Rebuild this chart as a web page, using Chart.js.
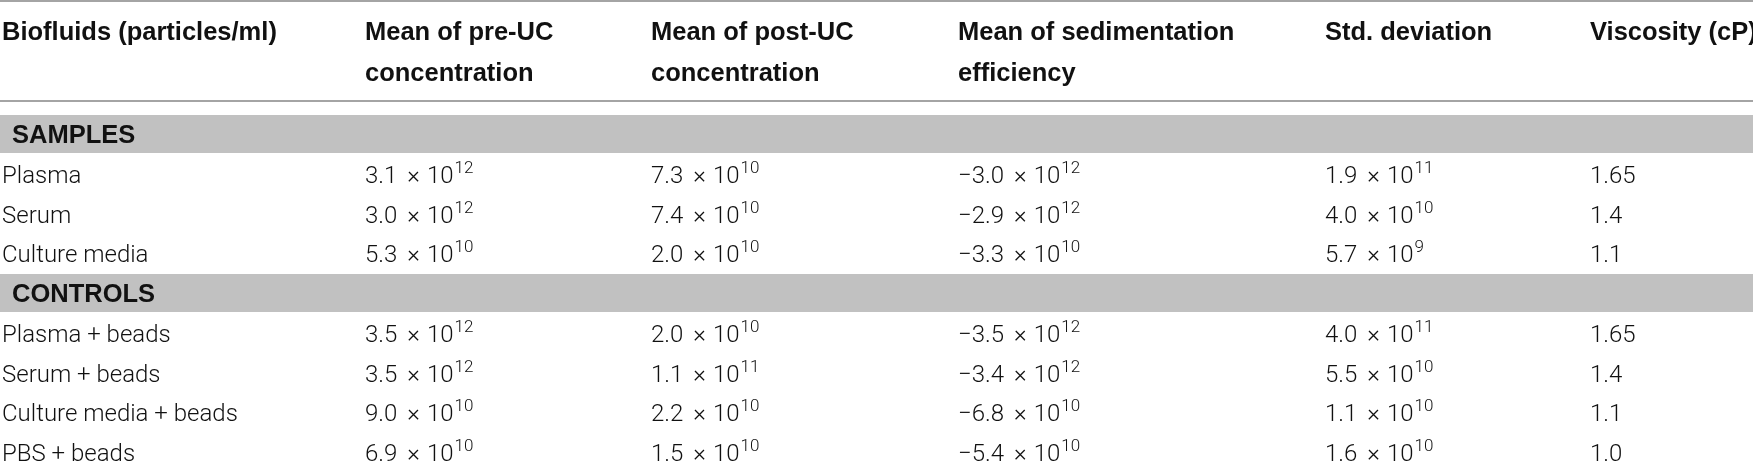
<!DOCTYPE html>
<html>
<head>
<meta charset="utf-8">
<script src="https://cdn.jsdelivr.net/npm/chart.js@4.4.1/dist/chart.umd.min.js"></script>
<style>
  html, body { margin: 0; padding: 0; background: #fff; }
  .tabela-container { width: 1753px; height: 463px; }
</style>
</head>
<body>
<div class="tabela-container"><canvas id="tabela"></canvas></div>
<script>
/*************  dados da tabela  ****************/
const columnHeaders = [
  ['Biofluids (particles/ml)'],
  ['Mean of pre-UC', 'concentration'],
  ['Mean of post-UC', 'concentration'],
  ['Mean of sedimentation', 'efficiency'],
  ['Std. deviation'],
  ['Viscosity (cP)']
]
const sections = ['SAMPLES', 'CONTROLS']
const sampleRows = ['Plasma', 'Serum', 'Culture media']
const controlRows = ['Plasma + beads', 'Serum + beads', 'Culture media + beads', 'PBS + beads']

// valores por linha (amostras e depois controlos)
const preUC = [3.1e12, 3.0e12, 5.3e10, 3.5e12, 3.5e12, 9.0e10, 6.9e10]
const postUC = [7.3e10, 7.4e10, 2.0e10, 2.0e10, 1.1e11, 2.2e10, 1.5e10]
const sedimentation = [-3.0e12, -2.9e12, -3.3e10, -3.5e12, -3.4e12, -6.8e10, -5.4e10]
const stdDeviation = [1.9e11, 4.0e10, 5.7e9, 4.0e11, 5.5e10, 1.1e10, 1.6e10]
const viscosity = [1.65, 1.4, 1.1, 1.65, 1.4, 1.1, 1.0]

//*************  layout / estilos  ****************/
const layout = {
  width: 1753,
  colX: [2, 365, 651, 958, 1325, 1590],
  sectionX: 12,
  headerBaselines: [40, 81],
  rules: [1, 101],
  baselineShift: 9
}
const style = {
  text: '#111',
  rule: '#a4a4a4',
  band: '#c1c1c1',
  headFont: 'bold 25.5px "Liberation Sans", Arial, sans-serif',
  bodyFont: '300 24px Roboto, "Liberation Sans", sans-serif',
  supFont: '300 17px Roboto, "Liberation Sans", sans-serif'
}

const rowLabels = [sections[0], ...sampleRows, sections[1], ...controlRows]
const valueColumns = [preUC, postUC, sedimentation, stdDeviation]

//*************  funções auxiliares  ****************/
function sciParts(v){
  const exp = Math.floor(Math.log10(Math.abs(v)))
  const mant = v / Math.pow(10, exp)
  return { mant: (mant < 0 ? '\u2212' : '') + Math.abs(mant).toFixed(1), exp: String(exp) }
}

function formatPlain(v){
  return Number.isInteger(v) ? v.toFixed(1) : String(v)
}

function drawSci(ctx, x, y, v){
  const p = sciParts(v)
  ctx.font = style.bodyFont
  ctx.fillText(p.mant, x, y)
  x += ctx.measureText(p.mant).width + 10
  ctx.fillText('\u00d7', x, y)
  x += ctx.measureText('\u00d7').width + 7
  ctx.fillText('10', x, y)
  x += ctx.measureText('10').width + 1
  ctx.font = style.supFont
  ctx.fillText(p.exp, x, y - 10)
}

// plugin que escreve os textos da tabela sobre as escalas
const tablePlugin = {
  id: 'tableText',
  afterDatasetsDraw(chart){
    const ctx = chart.ctx
    const xs = chart.scales.x
    const ys = chart.scales.y
    ctx.save()

    // linhas horizontais do cabeçalho
    ctx.strokeStyle = style.rule
    ctx.lineWidth = 2
    layout.rules.forEach(y => {
      ctx.beginPath()
      ctx.moveTo(xs.left, y)
      ctx.lineTo(xs.right, y)
      ctx.stroke()
    })

    ctx.fillStyle = style.text
    ctx.textBaseline = 'alphabetic'
    ctx.textAlign = 'left'

    // cabeçalho
    ctx.font = style.headFont
    columnHeaders.forEach((lines, c) => {
      lines.forEach((line, i) => {
        ctx.fillText(line, xs.getPixelForValue(layout.colX[c]), layout.headerBaselines[i])
      })
    })

    // linhas do corpo
    let k = 0
    rowLabels.forEach((label, idx) => {
      const y = ys.getPixelForValue(idx) + layout.baselineShift
      if(sections.includes(label)){
        ctx.font = style.headFont
        ctx.fillText(label, xs.getPixelForValue(layout.sectionX), y)
        return
      }
      ctx.font = style.bodyFont
      ctx.fillText(label, xs.getPixelForValue(layout.colX[0]), y)
      valueColumns.forEach((col, c) => {
        drawSci(ctx, xs.getPixelForValue(layout.colX[c + 1]), y, col[k])
      })
      ctx.font = style.bodyFont
      ctx.fillText(formatPlain(viscosity[k]), xs.getPixelForValue(layout.colX[5]), y)
      k++
    })

    ctx.restore()
  }
}

//*************  gráfico  ****************/
const canvas = document.getElementById('tabela')
new Chart(canvas, {
  type: 'bar',
  data: {
    labels: rowLabels,
    datasets: [{
      label: 'sections',
      data: rowLabels.map(l => sections.includes(l) ? [0, layout.width] : null),
      backgroundColor: style.band,
      borderWidth: 0,
      categoryPercentage: 1,
      barPercentage: 0.96,
      clip: false
    }]
  },
  options: {
    indexAxis: 'y',
    responsive: true,
    maintainAspectRatio: false,
    animation: false,
    events: [],
    layout: { padding: { top: 134, bottom: 11, left: 0, right: 0 } },
    plugins: { legend: { display: false }, tooltip: { enabled: false } },
    scales: {
      x: { type: 'linear', display: false, min: 0, max: layout.width },
      y: { type: 'category', display: false, offset: false }
    }
  },
  plugins: [tablePlugin]
})
</script>
</body>
</html>
